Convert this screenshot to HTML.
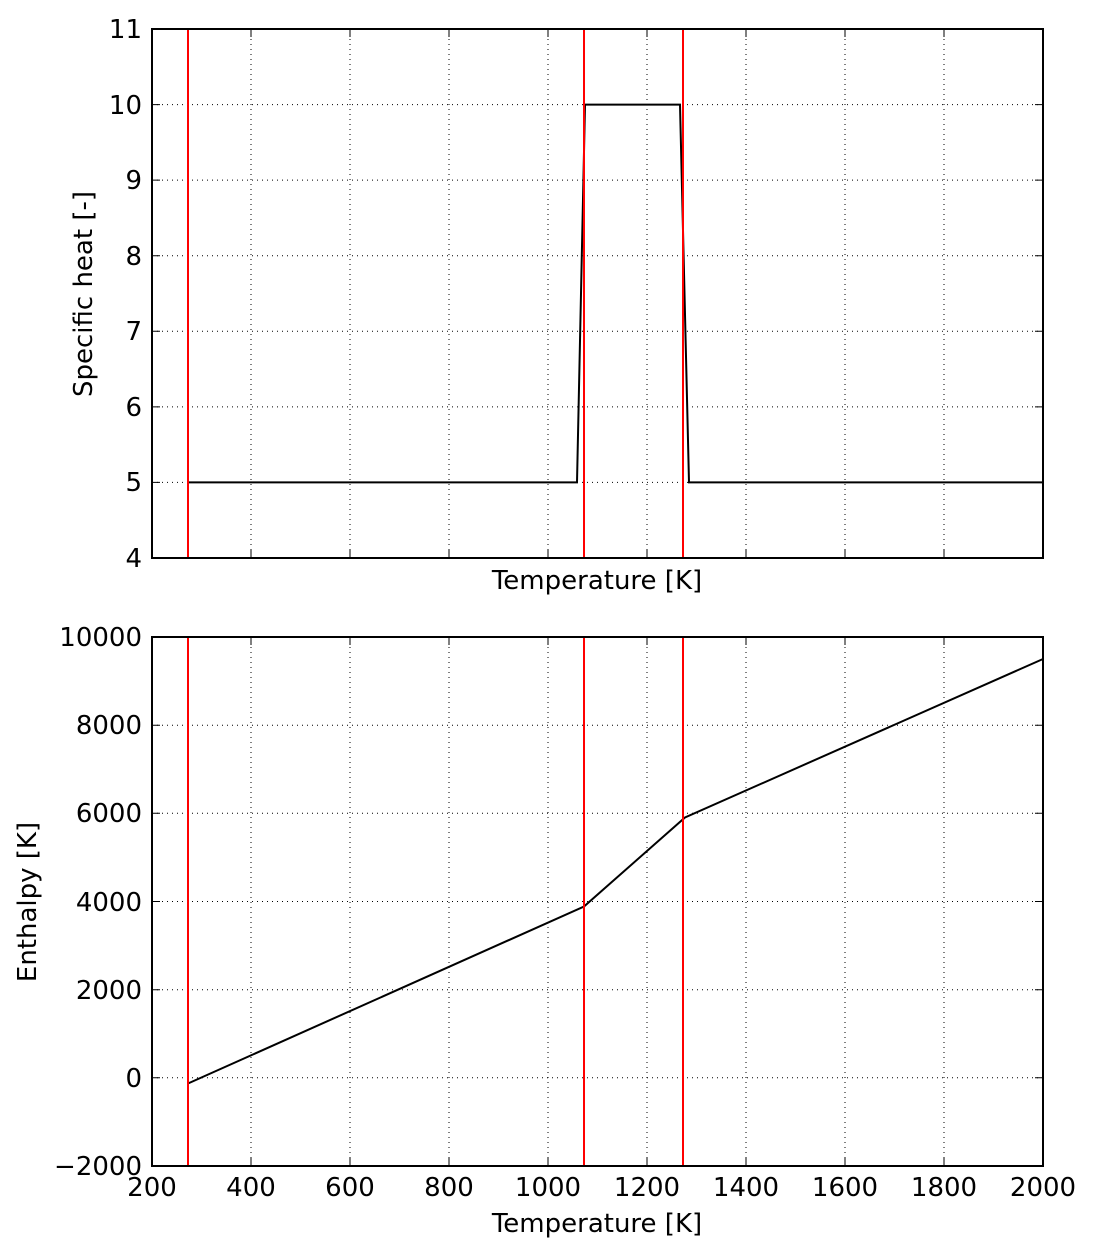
<!DOCTYPE html>
<html><head><style>body{margin:0;background:#fff}</style></head><body>
<svg width="1093" height="1254" xmlns="http://www.w3.org/2000/svg" font-family="DejaVu Sans, Liberation Sans, sans-serif" font-size="26">
<rect width="1093" height="1254" fill="#fff"/>
<!-- TOP -->
<g stroke="#000" stroke-width="1" stroke-dasharray="1,4">
<line x1="251" y1="29" x2="251" y2="558"/><line x1="350" y1="29" x2="350" y2="558"/><line x1="449" y1="29" x2="449" y2="558"/><line x1="548" y1="29" x2="548" y2="558"/><line x1="647" y1="29" x2="647" y2="558"/><line x1="746" y1="29" x2="746" y2="558"/><line x1="845" y1="29" x2="845" y2="558"/><line x1="944" y1="29" x2="944" y2="558"/>
<line x1="152" y1="104.6" x2="1043" y2="104.6"/><line x1="152" y1="180.1" x2="1043" y2="180.1"/><line x1="152" y1="255.7" x2="1043" y2="255.7"/><line x1="152" y1="331.3" x2="1043" y2="331.3"/><line x1="152" y1="406.9" x2="1043" y2="406.9"/><line x1="152" y1="482.4" x2="1043" y2="482.4"/>
</g>
<polyline points="188,482.4 577,482.4 585,104.6 680,104.6 689,482.4 1043,482.4" fill="none" stroke="#000" stroke-width="2"/>
<g stroke="#f00" stroke-width="2"><line x1="188" y1="29" x2="188" y2="558"/><line x1="584" y1="29" x2="584" y2="558"/><line x1="683" y1="29" x2="683" y2="558"/></g>
<rect x="152" y="29" width="891" height="529" fill="none" stroke="#000" stroke-width="2"/>
<g stroke="#000" stroke-width="1">
<path d="M251,29v8M350,29v8M449,29v8M548,29v8M647,29v8M746,29v8M845,29v8M944,29v8M251,558v-8M350,558v-8M449,558v-8M548,558v-8M647,558v-8M746,558v-8M845,558v-8M944,558v-8"/>
<path d="M152,104.6h8M152,180.1h8M152,255.7h8M152,331.3h8M152,406.9h8M152,482.4h8M1043,104.6h-8M1043,180.1h-8M1043,255.7h-8M1043,331.3h-8M1043,406.9h-8M1043,482.4h-8"/>
</g>
<g text-anchor="end">
<text x="142" y="38">11</text><text x="142" y="114">10</text><text x="142" y="189">9</text><text x="142" y="265">8</text><text x="142" y="340">7</text><text x="142" y="416">6</text><text x="142" y="491">5</text><text x="142" y="567">4</text>
</g>
<text x="597" y="589" text-anchor="middle">Temperature [K]</text>
<text transform="translate(92,294) rotate(-90)" text-anchor="middle">Specific heat [-]</text>
<!-- BOTTOM -->
<g stroke="#000" stroke-width="1" stroke-dasharray="1,4">
<line x1="251" y1="637" x2="251" y2="1166"/><line x1="350" y1="637" x2="350" y2="1166"/><line x1="449" y1="637" x2="449" y2="1166"/><line x1="548" y1="637" x2="548" y2="1166"/><line x1="647" y1="637" x2="647" y2="1166"/><line x1="746" y1="637" x2="746" y2="1166"/><line x1="845" y1="637" x2="845" y2="1166"/><line x1="944" y1="637" x2="944" y2="1166"/>
<line x1="152" y1="725.2" x2="1043" y2="725.2"/><line x1="152" y1="813.3" x2="1043" y2="813.3"/><line x1="152" y1="901.5" x2="1043" y2="901.5"/><line x1="152" y1="989.7" x2="1043" y2="989.7"/><line x1="152" y1="1077.8" x2="1043" y2="1077.8"/>
</g>
<polyline points="188,1083.5 584,906.5 685,817.5 1043,659" fill="none" stroke="#000" stroke-width="2"/>
<g stroke="#f00" stroke-width="2"><line x1="188" y1="637" x2="188" y2="1166"/><line x1="584" y1="637" x2="584" y2="1166"/><line x1="683" y1="637" x2="683" y2="1166"/></g>
<rect x="152" y="637" width="891" height="529" fill="none" stroke="#000" stroke-width="2"/>
<g stroke="#000" stroke-width="1">
<path d="M251,637v8M350,637v8M449,637v8M548,637v8M647,637v8M746,637v8M845,637v8M944,637v8M251,1166v-8M350,1166v-8M449,1166v-8M548,1166v-8M647,1166v-8M746,1166v-8M845,1166v-8M944,1166v-8"/>
<path d="M152,725.2h8M152,813.3h8M152,901.5h8M152,989.7h8M152,1077.8h8M1043,725.2h-8M1043,813.3h-8M1043,901.5h-8M1043,989.7h-8M1043,1077.8h-8"/>
</g>
<g text-anchor="end">
<text x="142" y="646">10000</text><text x="142" y="734">8000</text><text x="142" y="822">6000</text><text x="142" y="911">4000</text><text x="142" y="999">2000</text><text x="142" y="1087">0</text><text x="142" y="1175">−2000</text>
</g>
<g text-anchor="middle">
<text x="152" y="1196">200</text><text x="251" y="1196">400</text><text x="350" y="1196">600</text><text x="449" y="1196">800</text><text x="548" y="1196">1000</text><text x="647" y="1196">1200</text><text x="746" y="1196">1400</text><text x="845" y="1196">1600</text><text x="944" y="1196">1800</text><text x="1043" y="1196">2000</text>
<text x="597" y="1232">Temperature [K]</text>
</g>
<text transform="translate(36,902) rotate(-90)" text-anchor="middle">Enthalpy [K]</text>
</svg>
</body></html>
